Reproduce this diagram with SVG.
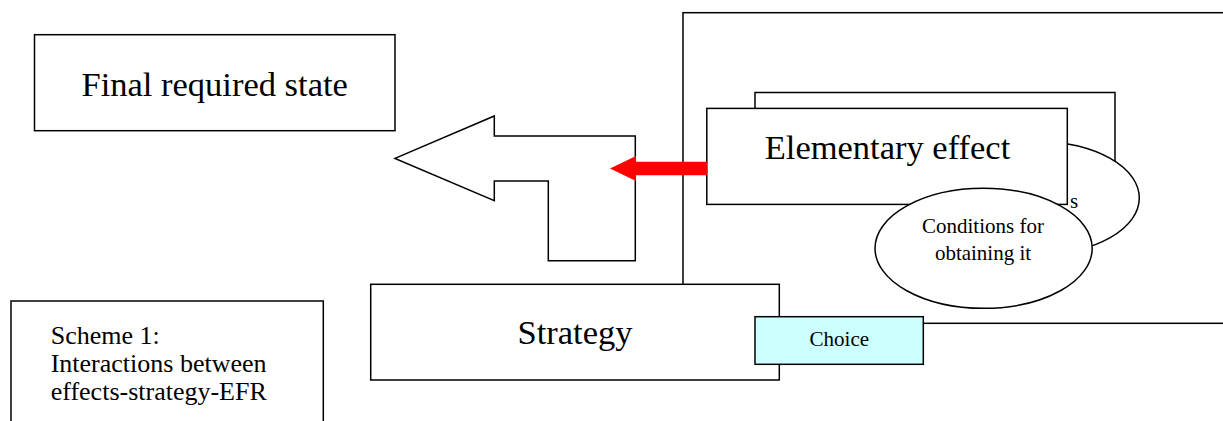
<svg xmlns="http://www.w3.org/2000/svg" width="1223" height="421" viewBox="0 0 1223 421">
  <style>
    .box { fill: #ffffff; stroke: #000000; stroke-width: 1.5; }
    .line { fill: none; stroke: #000000; stroke-width: 1.5; }
    .big { font-family: "Liberation Serif", "Times New Roman", serif; font-size: 34.5px; fill: #000000; text-anchor: middle; }
    .small { font-family: "Liberation Serif", "Times New Roman", serif; font-size: 21px; fill: #000000; text-anchor: middle; }
    .note { font-family: "Liberation Serif", "Times New Roman", serif; font-size: 26px; fill: #000000; }
  </style>
  <rect width="1223" height="421" fill="#ffffff"/>

  <!-- target state -->
  <g id="final-state">
    <rect class="box" x="34.5" y="34.7" width="360.5" height="96"/>
    <text class="big" x="214.7" y="96">Final required state</text>
  </g>

  <!-- frame around the effect cluster -->
  <g id="effect-frame">
    <rect class="box" x="683" y="12.7" width="560" height="310.6"/>
  </g>

  <!-- hollow return arrow towards the target state -->
  <g id="return-arrow">
    <path class="box" d="M395,158.4 L494.3,116 L494.3,136 L635.3,136 L635.3,260.7 L548.3,260.7 L548.3,181 L494.3,181 L494.3,200.7 Z"/>
  </g>

  <!-- stacked elementary effects -->
  <g id="effect-back">
    <rect class="box" x="755" y="92.5" width="360" height="96"/>
  </g>
  <g id="conditions-back">
    <ellipse class="box" cx="1040" cy="198" rx="99.3" ry="56"/>
    <text class="small" x="1074" y="208">s</text>
  </g>
  <g id="elementary-effect">
    <rect class="box" x="706.8" y="108.4" width="360.5" height="96"/>
    <text class="big" x="887.5" y="159.3">Elementary effect</text>
  </g>
  <g id="conditions">
    <ellipse class="box" cx="983.6" cy="248.3" rx="108.6" ry="60"/>
    <text class="small" x="983" y="233.3">Conditions for</text>
    <text class="small" x="983" y="259.5">obtaining it</text>
  </g>

  <!-- strategy and choice -->
  <g id="strategy">
    <rect class="box" x="370.7" y="284.3" width="408.6" height="95.7"/>
    <text class="big" x="575" y="343.5">Strategy</text>
  </g>
  <g id="choice">
    <rect x="755" y="316.7" width="168.3" height="47.6" fill="#ccffff" stroke="#000000" stroke-width="1.5"/>
    <text class="small" x="839.3" y="346">Choice</text>
  </g>

  <!-- caption box -->
  <g id="caption">
    <rect class="box" x="11" y="301" width="312.3" height="130"/>
    <text class="note" x="50.7" y="343.5">Scheme 1:</text>
    <text class="note" x="50.7" y="371.5">Interactions between</text>
    <text class="note" x="50.7" y="399.5">effects-strategy-EFR</text>
  </g>

  <!-- connectors -->
  <g id="connectors">
    <polygon points="707,161.7 636,161.7 636,156 610,168.6 636,181 636,175.3 707,175.3" fill="#ff0000"/>
  </g>
</svg>
